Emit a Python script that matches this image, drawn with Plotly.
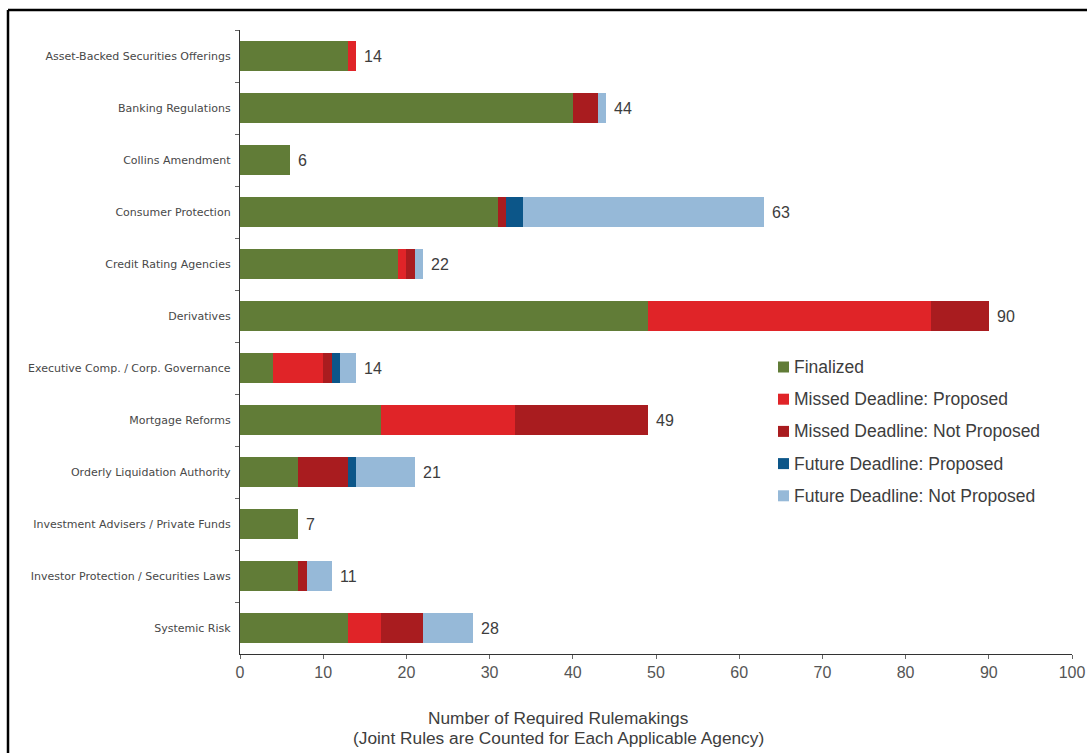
import plotly.graph_objects as go

categories = [
    "Asset-Backed Securities Offerings",
    "Banking Regulations",
    "Collins Amendment",
    "Consumer Protection",
    "Credit Rating Agencies",
    "Derivatives",
    "Executive Comp. / Corp. Governance",
    "Mortgage Reforms",
    "Orderly Liquidation Authority",
    "Investment Advisers / Private Funds",
    "Investor Protection / Securities Laws",
    "Systemic Risk",
]

finalized = [13, 40, 6, 31, 19, 49, 4, 17, 7, 7, 7, 13]
missed_proposed = [1, 0, 0, 0, 1, 34, 6, 16, 0, 0, 0, 4]
missed_not_proposed = [0, 3, 0, 1, 1, 7, 1, 16, 6, 0, 1, 5]
future_proposed = [0, 0, 0, 2, 0, 0, 1, 0, 1, 0, 0, 0]
future_not_proposed = [0, 1, 0, 29, 1, 0, 2, 0, 7, 0, 3, 6]

series_names = [
    "Finalized",
    "Missed Deadline: Proposed",
    "Missed Deadline: Not Proposed",
    "Future Deadline: Proposed",
    "Future Deadline: Not Proposed",
]
series_values = [finalized, missed_proposed, missed_not_proposed,
                 future_proposed, future_not_proposed]
series_colors = ["#617c37", "#e02428", "#a91c1f", "#0c5689", "#96b9d8"]

totals = [sum(vals) for vals in zip(*series_values)]

W, H = 1087, 753
ML, MR, MT, MB = 240, 15, 30, 99
pw = W - ML - MR
ph = H - MT - MB


def px_x(p):
    return (p - ML) / pw


def px_y(p):
    return (H - MB - p) / ph


SANS = "Liberation Sans, Arial, sans-serif"
TEXT = "#3d3d3d"

fig = go.Figure()
for name, vals, color in zip(series_names, series_values, series_colors):
    fig.add_trace(go.Bar(
        y=categories, x=vals, name=name, orientation="h",
        marker=dict(color=color, line=dict(width=0)),
        showlegend=False,
    ))

# total labels at the end of each bar
for cat, tot in zip(categories, totals):
    fig.add_annotation(
        x=tot, y=cat, xref="x", yref="y", text=str(tot),
        showarrow=False, xanchor="left", xshift=6,
        font=dict(family=SANS, size=16, color=TEXT),
    )

# legend: colour squares with labels
leg_x = 778
leg_y0 = 367
leg_step = 32.2
sq = 11
for i, (name, color) in enumerate(zip(series_names, series_colors)):
    cy = leg_y0 + i * leg_step
    fig.add_shape(
        type="rect", xref="paper", yref="paper",
        x0=px_x(leg_x), x1=px_x(leg_x + sq),
        y0=px_y(cy + sq / 2), y1=px_y(cy - sq / 2),
        fillcolor=color, line=dict(width=0),
    )
    fig.add_annotation(
        x=px_x(leg_x + sq + 3), y=px_y(cy), xref="paper", yref="paper",
        text=name, showarrow=False, xanchor="left", yanchor="middle",
        font=dict(family=SANS, size=17.5, color=TEXT),
    )

# axis title below the x axis
title_lines = ["Number of Required Rulemakings",
               "(Joint Rules are Counted for Each Applicable Agency)"]
for line, ty in zip(title_lines, [718, 738]):
    fig.add_annotation(
        x=px_x(558), y=px_y(ty), xref="paper", yref="paper",
        text=line, showarrow=False, xanchor="center", yanchor="middle",
        font=dict(family=SANS, size=17.3, color=TEXT),
    )

# outer frame (left and top edges)
fig.add_shape(type="line", xref="paper", yref="paper",
              x0=px_x(8), x1=px_x(8), y0=px_y(10), y1=px_y(800),
              line=dict(color="black", width=2.5))
fig.add_shape(type="line", xref="paper", yref="paper",
              x0=px_x(8), x1=px_x(1150), y0=px_y(10), y1=px_y(10),
              line=dict(color="black", width=2.5))

fig.update_layout(
    width=W, height=H, autosize=False,
    margin=dict(l=ML, r=MR, t=MT, b=MB, pad=0),
    barmode="stack",
    bargap=0.42,
    plot_bgcolor="white",
    paper_bgcolor="white",
    showlegend=False,
    xaxis=dict(
        range=[0, 100], dtick=10, tick0=0, automargin=False,
        showgrid=False, zeroline=False,
        showline=True, linecolor="#333333", linewidth=1.3,
        ticks="outside", ticklen=4, tickcolor="#666666",
        tickfont=dict(family=SANS, size=16, color="#555555"),
    ),
    yaxis=dict(
        autorange="reversed", automargin=False,
        showgrid=False, zeroline=False,
        showline=True, linecolor="#333333", linewidth=1.3,
        ticks="outside", ticklen=4, tickcolor="#666666", tickson="boundaries",
        ticklabelstandoff=6,
        tickfont=dict(family="DejaVu Sans, sans-serif", size=11, color="#484848"),
    ),
)

fig.write_html("out.html")
